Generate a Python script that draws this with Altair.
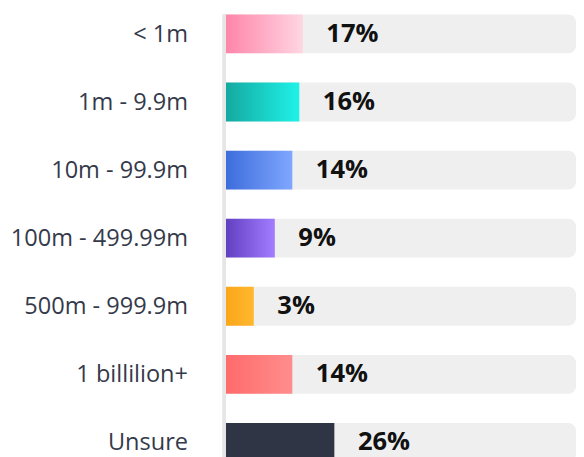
import altair as alt
import pandas as pd

# ---- data ----
categories = ["< 1m", "1m - 9.9m", "10m - 99.9m", "100m - 499.99m",
              "500m - 999.9m", "1 billilion+", "Unsure"]
values = [17, 16, 14, 9, 3, 14, 26]
labels = [f"{v}%" for v in values]

# ---- palette (gradient start / end per row) ----
grad_start = ["#ff85aa", "#14a9a0", "#3c6ddb", "#6140c0", "#fba61a", "#ff6b6b", "#303545"]
grad_end = ["#ffd6e2", "#1ff2e8", "#80a7ff", "#a37dff", "#ffb82e", "#ff8d8d", "#303545"]

X_MIN, X_MAX = -5, 95

df = pd.DataFrame({"category": categories, "value": values, "label": labels})

W, H = 357, 456
xscale = alt.Scale(domain=[X_MIN, X_MAX], nice=False, zero=False)

base = alt.Chart(df).encode(
    y=alt.Y(
        "category:N",
        sort=categories,
        title=None,
        scale=alt.Scale(paddingInner=0.43, paddingOuter=0.0001),
        axis=alt.Axis(
            ticks=False,
            domain=False,
            labelPadding=39,
            labelFont="Open Sans",
            labelFontSize=24,
            labelColor="#343a4a",
            labelLimit=300,
            labelOffset=1,
        ),
    )
)

track = base.mark_bar(
    color="#efefef", cornerRadiusTopRight=8, cornerRadiusBottomRight=8
).encode(
    x=alt.X(datum=X_MIN, type="quantitative", scale=xscale, axis=None),
    x2=alt.X2(datum=X_MAX),
)

layers = [track]
for cat, c0, c1 in zip(categories, grad_start, grad_end):
    grad = alt.Gradient(
        gradient="linear",
        stops=[alt.GradientStop(color=c0, offset=0), alt.GradientStop(color=c1, offset=1)],
        x1=0, x2=1, y1=0, y2=0,
    )
    layers.append(
        base.transform_filter(alt.datum.category == cat)
        .mark_bar(color=grad)
        .encode(
            x=alt.X("value:Q", scale=xscale, axis=None),
            x2=alt.X2(datum=X_MIN),
        )
    )

text = base.mark_text(
    align="left", baseline="middle", dx=24,
    font="Open Sans", fontWeight="bold", fontSize=26, color="#111111",
).encode(x=alt.X("value:Q", scale=xscale, axis=None), text="label:N")
layers.append(text)

axis_line = alt.Chart(df).mark_rule(color="#e6e6e6", strokeWidth=3).encode(
    x=alt.value(-1.5), y=alt.value(0), y2=alt.value(H + 20)
)
layers.append(axis_line)

chart = (
    alt.layer(*layers)
    .properties(width=W, height=H, padding={"left": 2, "top": 0, "right": 0, "bottom": 0})
    .configure_view(stroke=None)
)

chart.save("out.html", embed_options={"renderer": "svg", "actions": False})
